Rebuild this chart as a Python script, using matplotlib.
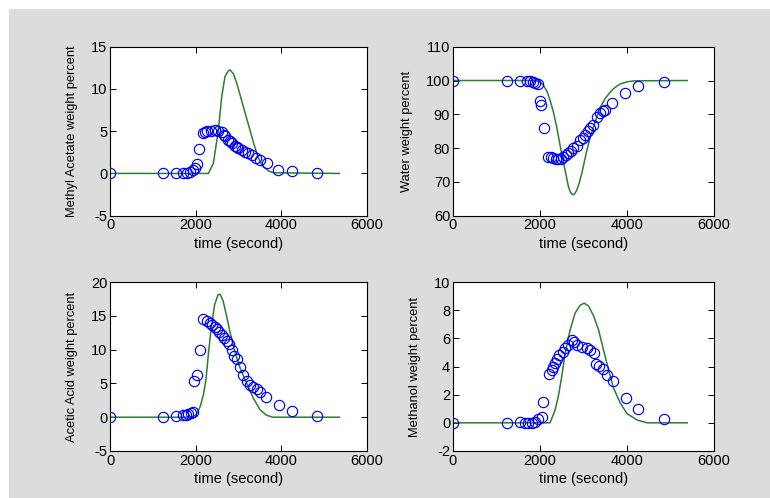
import matplotlib
matplotlib.use("Agg")
import matplotlib.pyplot as plt
from matplotlib.patches import Rectangle

# ---------------- data ----------------
ma_t = [0, 1245, 1541, 1712, 1790, 1868, 1930, 1985, 2024, 2085, 2179, 2225, 2272, 2358,
        2451, 2529, 2607, 2650, 2685, 2762, 2800, 2840, 2918, 2960, 2996, 3074, 3152, 3230,
        3308, 3409, 3502, 3659, 3930, 4242, 4830]
ma_y = [0, 0, 0, 0, 0, 0.2, 0.4, 0.7, 1.1, 2.9, 4.8, 4.9, 5.0, 5.05,
        5.1, 5.0, 4.9, 4.6, 4.4, 4.0, 3.8, 3.6, 3.2, 3.1, 3.0, 2.8, 2.55, 2.4,
        2.2, 1.85, 1.6, 1.2, 0.45, 0.3, 0.0]
ma_ct = [0, 2296, 2412, 2529, 2607, 2685, 2763, 2802, 2880, 2957, 3035, 3113, 3190,
         3268, 3346, 3424, 3500, 3580, 3700, 3813, 5354]
ma_cy = [0, 0, 1.2, 5.1, 9.1, 11.5, 12.15, 12.25, 11.8, 10.7, 9.3, 7.9, 6.5,
         5.1, 3.7, 2.4, 1.4, 0.8, 0.3, 0.08, 0]

w_t = [0, 1246, 1538, 1694, 1769, 1831, 1885, 1961, 1992, 2023, 2084, 2191, 2250, 2307,
       2365, 2422, 2480, 2537, 2595, 2652, 2710, 2766, 2843, 2920, 2977, 3035, 3100, 3149,
       3226, 3303, 3379, 3440, 3494, 3647, 3954, 4260, 4851]
w_y = [100, 99.8, 99.8, 99.9, 99.8, 99.6, 99.3, 99.1, 94.0, 92.8, 85.8, 77.5, 77.3, 77.0,
       76.8, 76.7, 76.9, 77.5, 77.9, 78.5, 79.0, 80.0, 80.6, 82.4, 82.9, 83.9, 85.0, 85.9,
       86.8, 89.3, 90.5, 90.9, 91.3, 93.2, 96.2, 98.4, 99.6]
w_ct = [0, 1900, 2000, 2077, 2160, 2231, 2310, 2385, 2450, 2500, 2577, 2654, 2700, 2754,
        2800, 2846, 2900, 2962, 3020, 3077, 3150, 3231, 3310, 3385, 3500, 3615, 3730, 3846,
        4000, 4154, 5385]
w_cy = [100, 100, 99.6, 98.6, 96.8, 94.2, 90.6, 86.2, 81.6, 78.3, 73.4, 68.6, 66.9, 66.2,
        66.5, 67.6, 69.6, 72.6, 76.0, 79.3, 83.0, 86.3, 89.4, 92.1, 94.7, 96.6, 98.0, 99.0,
        99.6, 99.9, 100]

aa_t = [0, 1245, 1541, 1712, 1774, 1829, 1883, 1946, 1969, 2023, 2093, 2170, 2257, 2327,
        2390, 2440, 2491, 2553, 2608, 2661, 2724, 2775, 2841, 2905, 2957, 3027, 3113, 3191,
        3269, 3347, 3424, 3510, 3650, 3940, 4253, 4840]
aa_y = [0, 0.05, 0.15, 0.28, 0.35, 0.4, 0.55, 0.8, 5.35, 6.2, 9.9, 14.5, 14.3, 14.0,
        13.7, 13.4, 13.1, 12.6, 12.1, 11.7, 11.3, 10.85, 9.9, 9.05, 8.6, 7.5, 6.2, 5.4,
        4.8, 4.45, 4.1, 3.75, 3.0, 1.75, 0.87, 0.25]
aa_ct = [0, 1900, 2000, 2100, 2180, 2240, 2300, 2370, 2440, 2520, 2570, 2640, 2720, 2800,
         2900, 3035, 3191, 3346, 3502, 3650, 3800, 5354]
aa_cy = [0, 0, 0.3, 1.5, 3.3, 5.6, 9.6, 13.6, 16.6, 18.1, 18.2, 17.2, 15.0, 12.6,
         10.0, 7.3, 5.0, 2.8, 1.1, 0.3, 0, 0]

me_t = [0, 1246, 1540, 1655, 1732, 1809, 1885, 1961, 2038, 2076, 2214, 2268, 2306, 2345,
        2383, 2444, 2522, 2575, 2651, 2728, 2782, 2858, 2958, 3073, 3149, 3241, 3287, 3364,
        3456, 3548, 3671, 3977, 4260, 4851]
me_y = [0, 0, 0.05, 0.02, 0.0, 0.0, 0.08, 0.27, 0.4, 1.5, 3.5, 3.75, 4.0, 4.25,
        4.5, 4.85, 5.05, 5.3, 5.5, 5.85, 5.75, 5.55, 5.4, 5.3, 5.2, 4.95, 4.2, 4.05,
        3.8, 3.42, 3.0, 1.76, 0.95, 0.3]
me_ct = [0, 2231, 2346, 2423, 2500, 2577, 2692, 2808, 2923, 3015, 3115, 3231, 3346,
         3462, 3577, 3692, 3846, 4000, 4231, 4462, 5385]
me_cy = [0, 0, 0.9, 1.9, 3.3, 4.9, 6.6, 7.8, 8.35, 8.5, 8.3, 7.6, 6.6,
         5.15, 3.75, 2.45, 1.4, 0.65, 0.2, 0, 0]

panels = [
    (ma_t, ma_y, ma_ct, ma_cy, (-5, 15), [-5, 0, 5, 10, 15], "Methyl Acetate weight percent"),
    (w_t, w_y, w_ct, w_cy, (60, 110), [60, 70, 80, 90, 100, 110], "Water weight percent"),
    (aa_t, aa_y, aa_ct, aa_cy, (-5, 20), [-5, 0, 5, 10, 15, 20], "Acetic Acid weight percent"),
    (me_t, me_y, me_ct, me_cy, (-2, 10), [-2, 0, 2, 4, 6, 8, 10], "Methanol weight percent"),
]
x_ticks = [0, 2000, 4000, 6000]

# ---------------- figure ----------------
plt.rcParams['font.family'] = ['Liberation Sans', 'DejaVu Sans']
plt.rcParams['axes.unicode_minus'] = False
fig = plt.figure(figsize=(7.7, 4.98), dpi=100, facecolor='white')
fig.patches.append(Rectangle((9 / 770, 0), 1 - 9 / 770, 1 - 9 / 498,
                             transform=fig.transFigure, facecolor='#dcdcdc',
                             edgecolor='none', zorder=-10))

positions = [
    [0.1429, 0.5669, 0.3338, 0.3393],
    [0.5883, 0.5669, 0.3390, 0.3393],
    [0.1429, 0.0944, 0.3338, 0.3393],
    [0.5883, 0.0944, 0.3390, 0.3393],
]

for pos, (t, y, ct, cy, ylim, yt, ylab) in zip(positions, panels):
    ax = fig.add_axes(pos)
    ax.set_facecolor('white')
    ax.plot(ct, cy, color='#2e7d32', lw=1.1, zorder=2)
    ax.plot(t, y, linestyle='none', marker='o', markersize=7.4, markerfacecolor='none',
            markeredgecolor='#0000ff', markeredgewidth=0.85, zorder=3)
    ax.set_xlim(0, 6000)
    ax.set_ylim(*ylim)
    ax.set_xticks(x_ticks)
    ax.set_yticks(yt)
    ax.tick_params(direction='in', length=4, width=0.7, top=True, right=True,
                   labelsize=10.5, colors='black', pad=2)
    for s in ax.spines.values():
        s.set_linewidth(0.8)
        s.set_color('black')
    ax.set_xlabel("time (second)", fontsize=10.5, labelpad=3)
    ax.set_ylabel(ylab, fontsize=9.3, labelpad=9)

fig.savefig("out.png", dpi=100, facecolor=fig.get_facecolor())
